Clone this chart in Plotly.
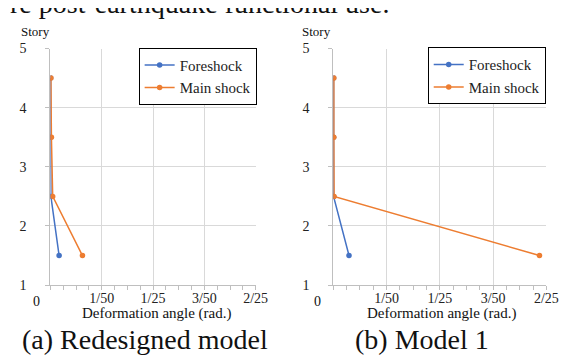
import plotly.graph_objects as go

stories = [1.5, 2.5, 3.5, 4.5]
fore_a = [0.0034, 0.0002, 0.0001, 0.0001]
main_a = [0.0125, 0.0009, 0.0004, 0.0002]
fore_b = [0.0059, 0.0001, 0.0001, 0.0001]
main_b = [0.0774, 0.0003, 0.0002, 0.0002]
xtickvals = [0, 0.02, 0.04, 0.06, 0.08]
xticktext = ["", "1/50", "1/25", "3/50", "2/25"]
ytickvals = [1, 2, 3, 4, 5]

BLUE = "#4472C4"
ORANGE = "#ED7D31"
FONT = "Liberation Serif"
W, H = 569, 356

fig = go.Figure()

def add(x, name, color, xa, ya, legend):
    fig.add_trace(go.Scatter(
        x=x, y=stories, mode="lines+markers", name=name,
        line=dict(color=color, width=1.5),
        marker=dict(color=color, size=5.5),
        xaxis=xa, yaxis=ya, legend=legend,
    ))

add(fore_a, "Foreshock", BLUE, "x", "y", "legend")
add(main_a, "Main shock", ORANGE, "x", "y", "legend")
add(fore_b, "Foreshock", BLUE, "x2", "y2", "legend2")
add(main_b, "Main shock", ORANGE, "x2", "y2", "legend2")

def px(v):
    return v / W

def py(v):
    return 1 - v / H

xcommon = dict(
    range=[0, 0.08], tickvals=xtickvals, ticktext=xticktext,
    showgrid=True, gridcolor="#d9d9d9", gridwidth=1,
    showline=True, linecolor="#bfbfbf", linewidth=1,
    ticks="outside", ticklen=4, tickcolor="#bfbfbf",
    minor=dict(dtick=0.005, ticks="outside", ticklen=4, tickcolor="#bfbfbf", showgrid=False),
    tickfont=dict(family=FONT, size=14, color="#222"),
    zeroline=False, ticklabelstandoff=-4,
)
ycommon = dict(
    range=[1, 5], tickvals=ytickvals,
    showgrid=True, gridcolor="#d9d9d9", gridwidth=1,
    showline=True, linecolor="#bfbfbf", linewidth=1,
    ticks="outside", ticklen=4, tickcolor="#bfbfbf",
    tickfont=dict(family=FONT, size=14, color="#222"),
    zeroline=False, ticklabelstandoff=16,
)

fig.update_layout(
    width=W, height=H, margin=dict(l=0, r=0, t=0, b=0),
    paper_bgcolor="white", plot_bgcolor="white",
    font=dict(family=FONT),
    xaxis=dict(domain=[px(43.3), px(253)], anchor="y", **xcommon),
    yaxis=dict(domain=[py(282), py(35)], anchor="x", **ycommon),
    xaxis2=dict(domain=[px(332.3), px(550)], anchor="y2", **xcommon),
    yaxis2=dict(domain=[py(282), py(35)], anchor="x2", **ycommon),
    legend=dict(x=px(254), y=py(34.3), xanchor="right", yanchor="top",
                bordercolor="black", borderwidth=1, bgcolor="white",
                font=dict(family=FONT, size=15, color="#222")),
    legend2=dict(x=px(549.3), y=py(33.7), xanchor="right", yanchor="top",
                 bordercolor="black", borderwidth=1, bgcolor="white",
                 font=dict(family=FONT, size=15, color="#222")),
    showlegend=True,
)

anns = [
    dict(text="re post-earthquake functional use.", x=px(0), y=py(-12), xanchor="left", yanchor="middle", size=28),
    dict(text="Story", x=px(27.7), y=py(17.5), xanchor="center", yanchor="middle", size=13),
    dict(text="Story", x=px(315), y=py(17.5), xanchor="center", yanchor="middle", size=13),
    dict(text="0", x=px(29), y=py(299), xanchor="center", yanchor="middle", size=14),
    dict(text="0", x=px(316), y=py(299), xanchor="center", yanchor="middle", size=14),
    dict(text="Deformation angle (rad.)", x=px(151.7), y=py(312), xanchor="center", yanchor="middle", size=15),
    dict(text="Deformation angle (rad.)", x=px(443), y=py(312), xanchor="center", yanchor="middle", size=15),
    dict(text="(a) Redesigned model", x=px(140), y=py(339), xanchor="center", yanchor="middle", size=28),
    dict(text="(b) Model 1", x=px(422.5), y=py(339), xanchor="center", yanchor="middle", size=28),
]
for a in anns:
    fig.add_annotation(text=a["text"], x=a["x"], y=a["y"], xref="paper", yref="paper",
                       xanchor=a["xanchor"], yanchor=a["yanchor"], showarrow=False,
                       font=dict(family=FONT, size=a["size"], color="#111"))

fig.write_html("out.html")
